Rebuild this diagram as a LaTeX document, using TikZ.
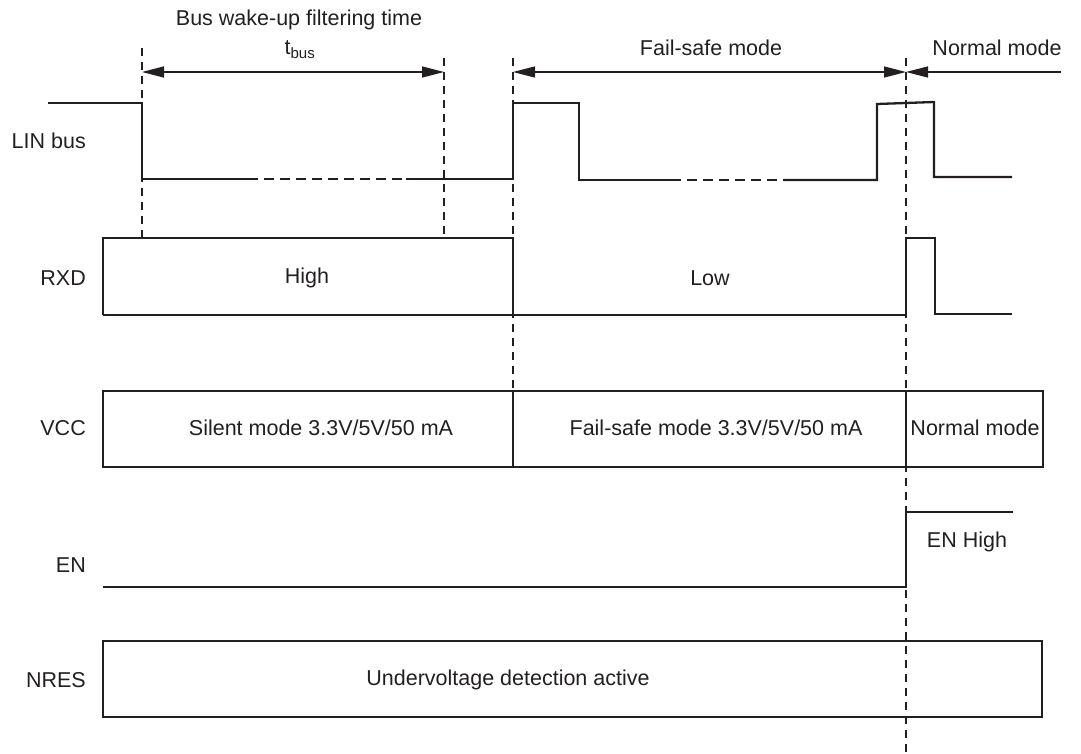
\documentclass[tikz,border=0pt]{standalone}
\usepackage{fontspec}
\setmainfont{Liberation Sans}
\usetikzlibrary{arrows.meta}
\definecolor{ink}{HTML}{231F20}
\tikzset{
  sig/.style={draw=ink, line width=2.3pt, line join=miter},
  gap/.style={draw=ink, line width=1.3pt, dash pattern=on 10pt off 6pt},
  guide/.style={draw=ink, line width=1.2pt, dash pattern=on 8pt off 6pt},
  dim/.style={draw=ink, line width=1.4pt},
  tip/.style={-{Triangle[length=22pt,width=11pt]}},
  txt/.style={inner sep=0pt, text=ink, font=\fontsize{21.5}{25}\selectfont},
  lbl/.style={txt, anchor=east}
}
\begin{document}
\begin{tikzpicture}[x=1pt,y=-1pt]
\useasboundingbox (0,0) rectangle (1081,754);

% guide lines (dashed)
\coordinate (g1t) at (142,48);  \coordinate (g1b) at (142,238);
\coordinate (g2t) at (444,58);  \coordinate (g2b) at (444,238);
\coordinate (g3t) at (513,58);  \coordinate (g3b) at (513,391);
\coordinate (g4t) at (906,58);  \coordinate (g4b) at (906,754);
\draw[guide] (g1t) -- (g1b);
\draw[guide] (g2t) -- (g2b);
\draw[guide] (g3t) -- (g3b);
\draw[guide] (g4t) -- (g4b);

% dimension arrows
\coordinate (a1l) at (142,72); \coordinate (a1r) at (444,72);
\coordinate (a2l) at (513,72); \coordinate (a2r) at (906,72);
\coordinate (a3r) at (1061,72);
\draw[dim, {Triangle[length=22pt,width=11pt]}-{Triangle[length=22pt,width=11pt]}] (a1l) -- (a1r);
\draw[dim, {Triangle[length=22pt,width=11pt]}-{Triangle[length=22pt,width=11pt]}] (a2l) -- (a2r);
\draw[dim, tip] (a3r) -- (a2r);

\node[txt] (tbwake) at (299,20) {Bus wake-up filtering time};
\node[txt] (tbus) at (300,50) {t\textsubscript{bus}};
\node[txt] (tfs) at (711,48) {Fail-safe mode};
\node[txt] (tnm) at (997,48) {Normal mode};

% signal labels
\node[lbl] (lLIN) at (86,141) {LIN bus};
\node[lbl] (lRXD) at (86,278) {RXD};
\node[lbl] (lVCC) at (86,428) {VCC};
\node[lbl] (lEN) at (86,565) {EN};
\node[lbl] (lNRES) at (86,680) {NRES};

% LIN bus
\draw[sig] (48,103) -- (142,103) -- (142,179) -- (248,179);
\draw[gap] (248,179) -- (406,179);
\draw[sig] (406,179) -- (513,179) -- (513,103) -- (579,103) -- (579,180) -- (671,180);
\draw[gap] (671,180) -- (783,180);
\draw[sig] (783,180) -- (877,180) -- (877,104) -- (934,102) -- (934,177) -- (1012,177);

% RXD
\draw[sig] (103,315) -- (103,238) -- (513,238) -- (513,315);
\draw[sig] (103,315) -- (906,315) -- (906,238) -- (935,238) -- (935,314) -- (1012,314);
\node[txt] (rHigh) at (307,278) {High};
\node[txt] (rLow) at (710,278) {Low};

% VCC
\draw[sig] (103,391) rectangle (1043,467);
\draw[sig] (513,391) -- (513,467);
\draw[sig] (906,391) -- (906,467);
\node[txt] (vS) at (321,428) {Silent mode 3.3V/5V/50 mA};
\node[txt] (vF) at (716,428) {Fail-safe mode 3.3V/5V/50 mA};
\node[txt] (vN) at (975,428) {Normal mode};

% EN
\draw[sig] (103,587) -- (906,587) -- (906,512) -- (1013,512);
\node[txt] (eH) at (967,542) {EN High};

% NRES
\draw[sig] (103,641) rectangle (1042,717);
\node[txt] (nU) at (508,680) {Undervoltage detection active};
\end{tikzpicture}
\end{document}
